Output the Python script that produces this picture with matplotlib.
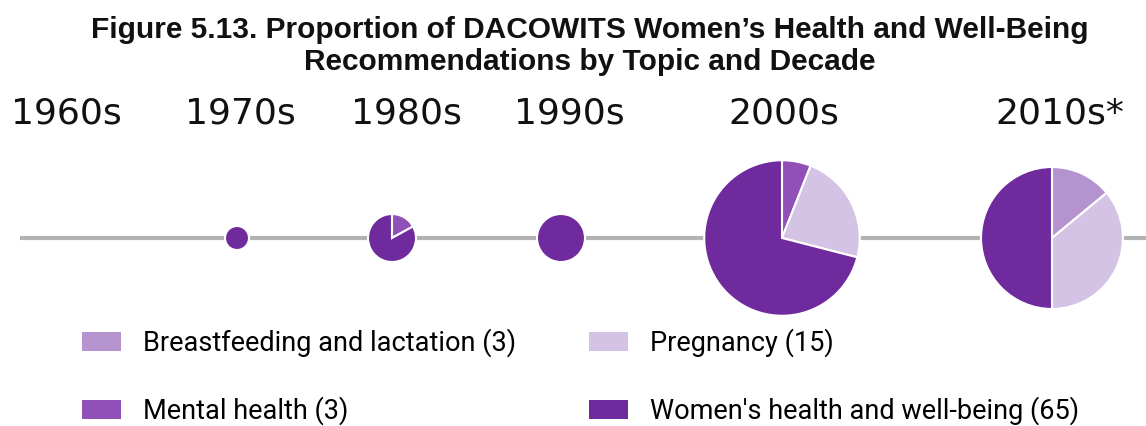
import numpy as np
from matplotlib import pyplot as plt
from matplotlib.patches import Patch

decades = ["1960s", "1970s", "1980s", "1990s", "2000s", "2010s*"]
# total recommendations per decade (sets the circle size)
totals = [0, 1, 4, 4, 42, 35]
# share of each topic within a decade, in percent
breastfeeding = [0, 0, 0, 0, 0, 14]
mental_health = [0, 0, 17, 0, 6, 0]
pregnancy = [0, 0, 0, 0, 23, 36]
womens_health = [0, 100, 83, 100, 71, 50]

topics = ["Breastfeeding and lactation (3)", "Mental health (3)",
          "Pregnancy (15)", "Women's health and well-being (65)"]
colors = ["#b593cf", "#9150b8", "#d4c3e4", "#6f2a9e"]

# layout in pixels (y measured from the bottom)
W, H = 1146, 426
xpos = [66, 237, 392, 561, 782, 1052]
label_x = [66, 240, 406, 569, 784, 1060]
line_y = H - 238
scale = 12.0   # pixels of radius per sqrt(count)

fig = plt.figure(figsize=(W/100, H/100), dpi=100)
ax = fig.add_axes([0, 0, 1, 1])

ax.plot([20, W], [line_y, line_y], color="#b3b3b3", lw=3, zorder=1,
        solid_capstyle="butt")

shares = np.array([breastfeeding, mental_health, pregnancy, womens_health])
for i in range(len(decades)):
    if totals[i] > 0:
        vals = shares[:, i]
        keep = vals > 0
        ax.pie(vals[keep], colors=[c for c, k in zip(colors, keep) if k],
               center=(xpos[i], line_y), radius=scale*np.sqrt(totals[i]),
               startangle=90, counterclock=False,
               wedgeprops=dict(edgecolor="white", linewidth=1.5, zorder=2))
    ax.text(label_x[i], H - 114, decades[i], ha="center", va="center",
            fontsize=26, color="#111111", family="DejaVu Sans")

ax.set_xlim(0, W)
ax.set_ylim(0, H)
ax.set_aspect("equal")
ax.axis("off")

fig.text(0.515, 1 - 30/H, "Figure 5.13. Proportion of DACOWITS Women\u2019s Health and Well-Being",
         ha="center", va="center", fontsize=21.5, fontweight="bold",
         family="Liberation Sans", color="#111111")
fig.text(0.515, 1 - 62/H, "Recommendations by Topic and Decade",
         ha="center", va="center", fontsize=21.5, fontweight="bold",
         family="Liberation Sans", color="#111111")

handles = [Patch(facecolor=c, edgecolor="none") for c in colors]
fig.legend(handles, topics, ncol=2, loc="upper left",
           bbox_to_anchor=(0.05, 1 - 304/H), frameon=False,
           prop=dict(family="Roboto", size=19.5),
           handlelength=1.45, handleheight=0.7, handletextpad=0.8,
           labelspacing=1.45, columnspacing=2.7)

fig.savefig("out.png", dpi=100)
